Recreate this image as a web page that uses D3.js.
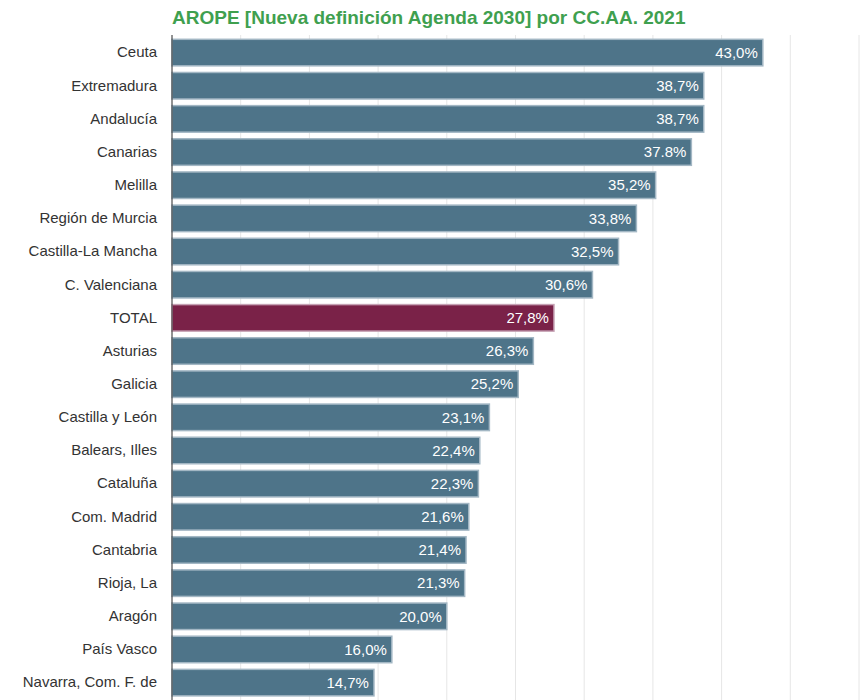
<!DOCTYPE html>
<html>
<head>
<meta charset="utf-8">
<script src="https://cdn.jsdelivr.net/npm/d3@7"></script>
<style>
  body { margin: 0; background: #fff; }
  svg { display: block; font-family: "Liberation Sans", Arial, Helvetica, sans-serif; }
</style>
</head>
<body>
<svg id="chart" width="860" height="700"></svg>
<script>
const categories = ["Ceuta", "Extremadura", "Andalucía", "Canarias", "Melilla", "Región de Murcia",
  "Castilla-La Mancha", "C. Valenciana", "TOTAL", "Asturias", "Galicia", "Castilla y León",
  "Balears, Illes", "Cataluña", "Com. Madrid", "Cantabria", "Rioja, La", "Aragón", "País Vasco",
  "Navarra, Com. F. de"];
const values = [43.0, 38.7, 38.7, 37.8, 35.2, 33.8, 32.5, 30.6, 27.8, 26.3, 25.2, 23.1, 22.4, 22.3,
  21.6, 21.4, 21.3, 20.0, 16.0, 14.7];
const valueLabels = ["43,0%", "38,7%", "38,7%", "37.8%", "35,2%", "33,8%", "32,5%", "30,6%", "27,8%",
  "26,3%", "25,2%", "23,1%", "22,4%", "22,3%", "21,6%", "21,4%", "21,3%", "20,0%", "16,0%", "14,7%"];
const xTicks = [0, 5, 10, 15, 20, 25, 30, 35, 40, 45, 50];
const title = "AROPE [Nueva definición Agenda 2030] por CC.AA. 2021";
const highlight = "TOTAL";

(function () {
const data = categories.map((c, i) => ({ cat: c, v: values[i], label: valueLabels[i] }));

const svg = d3.select("#chart");
const mLeft = 172, mRight = 859, mTop = 35, mBottom = 700;

const x = d3.scaleLinear().domain([0, 50]).range([mLeft, mRight]);
const y = d3.scaleBand().domain(categories).range([36, 699.2]).paddingInner(0.2).paddingOuter(0.1);

// gridlines
svg.append("g").selectAll("line").data(xTicks).join("line")
  .attr("x1", d => x(d)).attr("x2", d => x(d))
  .attr("y1", mTop).attr("y2", mBottom)
  .attr("stroke", "#e6e6e6").attr("stroke-width", 1);

// bars
svg.append("g").selectAll("rect").data(data).join("rect")
  .attr("x", x(0))
  .attr("y", d => y(d.cat))
  .attr("width", d => x(d.v) - x(0))
  .attr("height", y.bandwidth())
  .attr("fill", d => d.cat === highlight ? "#7a2248" : "#4e7489")
  .attr("stroke", d => d.cat === highlight ? "#c6a2b4" : "#a3b7c4")
  .attr("stroke-width", 1.5);

// value labels
svg.append("g").selectAll("text").data(data).join("text")
  .attr("x", d => x(d.v) - 5)
  .attr("y", d => y(d.cat) + y.bandwidth() / 2)
  .attr("dy", "0.35em")
  .attr("text-anchor", "end")
  .attr("fill", "#ffffff")
  .attr("font-size", "15px")
  .text(d => d.label);

// y axis
const yAxis = d3.axisLeft(y).tickSize(0).tickPadding(15);
const ga = svg.append("g").attr("transform", `translate(${mLeft},0)`).call(yAxis);
ga.select(".domain").remove();
ga.selectAll("text").attr("font-size", "15px").attr("fill", "#333333")
  .attr("font-family", "Liberation Sans, Arial, sans-serif");

svg.append("line")
  .attr("x1", mLeft).attr("x2", mLeft).attr("y1", mTop).attr("y2", mBottom)
  .attr("stroke", "#333333").attr("stroke-width", 1);

// title
svg.append("text")
  .attr("x", mLeft).attr("y", 24)
  .attr("fill", "#3fa04f")
  .attr("font-weight", "bold")
  .attr("font-size", "19px")
  .text(title);
})();
</script>
</body>
</html>
